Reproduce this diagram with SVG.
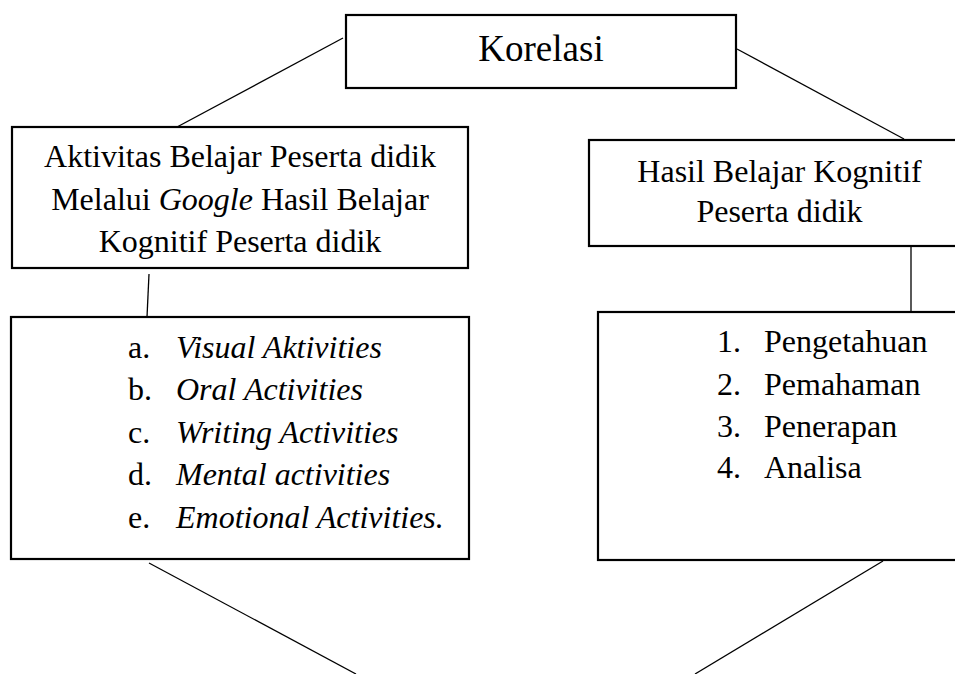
<svg xmlns="http://www.w3.org/2000/svg" width="955" height="674" viewBox="0 0 955 674">
<style>
.box{fill:#fff;stroke:#000;stroke-width:2.2}
text{font-family:'Liberation Serif','Times New Roman',Times,serif;fill:#000;font-size:32px}
.c{stroke:#000;stroke-width:1.3;fill:none}
</style>
<rect width="955" height="674" fill="#fff"/>
<g id="connectors">
<line class="c" x1="343" y1="38" x2="177" y2="127"/>
<line class="c" x1="737" y1="49" x2="904" y2="139"/>
<line class="c" x1="149" y1="274" x2="147" y2="317"/>
<line class="c" x1="911" y1="245" x2="911" y2="312"/>
<line class="c" x1="149" y1="563" x2="356" y2="674"/>
<line class="c" x1="883" y1="561" x2="695" y2="674"/>
</g>
<g id="korelasi">
<rect class="box" x="346" y="15" width="390" height="73"/>
<text x="541" y="61" text-anchor="middle" style="font-size:37px">Korelasi</text>
</g>
<g id="aktivitas">
<rect class="box" x="12" y="127" width="456" height="141"/>
<text x="240" y="167" text-anchor="middle">Aktivitas Belajar Peserta didik</text>
<text x="240" y="210" text-anchor="middle">Melalui <tspan font-style="italic">Google</tspan> Hasil Belajar</text>
<text x="240" y="252" text-anchor="middle">Kognitif Peserta didik</text>
</g>
<g id="hasil">
<rect class="box" x="589" y="140" width="385" height="106"/>
<text x="779.5" y="182" text-anchor="middle">Hasil Belajar Kognitif</text>
<text x="779.5" y="222" text-anchor="middle">Peserta didik</text>
</g>
<g id="aktivitas-list">
<rect class="box" x="11" y="317" width="458" height="242"/>
<text x="128" y="358">a.</text><text x="176" y="358" font-style="italic">Visual Aktivities</text>
<text x="128" y="400">b.</text><text x="176" y="400" font-style="italic">Oral Activities</text>
<text x="128" y="443">c.</text><text x="176" y="443" font-style="italic">Writing Activities</text>
<text x="128" y="485">d.</text><text x="176" y="485" font-style="italic">Mental activities</text>
<text x="128" y="528">e.</text><text x="176" y="528" font-style="italic">Emotional Activities.</text>
</g>
<g id="hasil-list">
<rect class="box" x="598" y="312" width="376" height="248"/>
<text x="717" y="352">1.</text><text x="764" y="352">Pengetahuan</text>
<text x="717" y="395">2.</text><text x="764" y="395">Pemahaman</text>
<text x="717" y="437">3.</text><text x="764" y="437">Penerapan</text>
<text x="717" y="478">4.</text><text x="764" y="478">Analisa</text>
</g>
</svg>
